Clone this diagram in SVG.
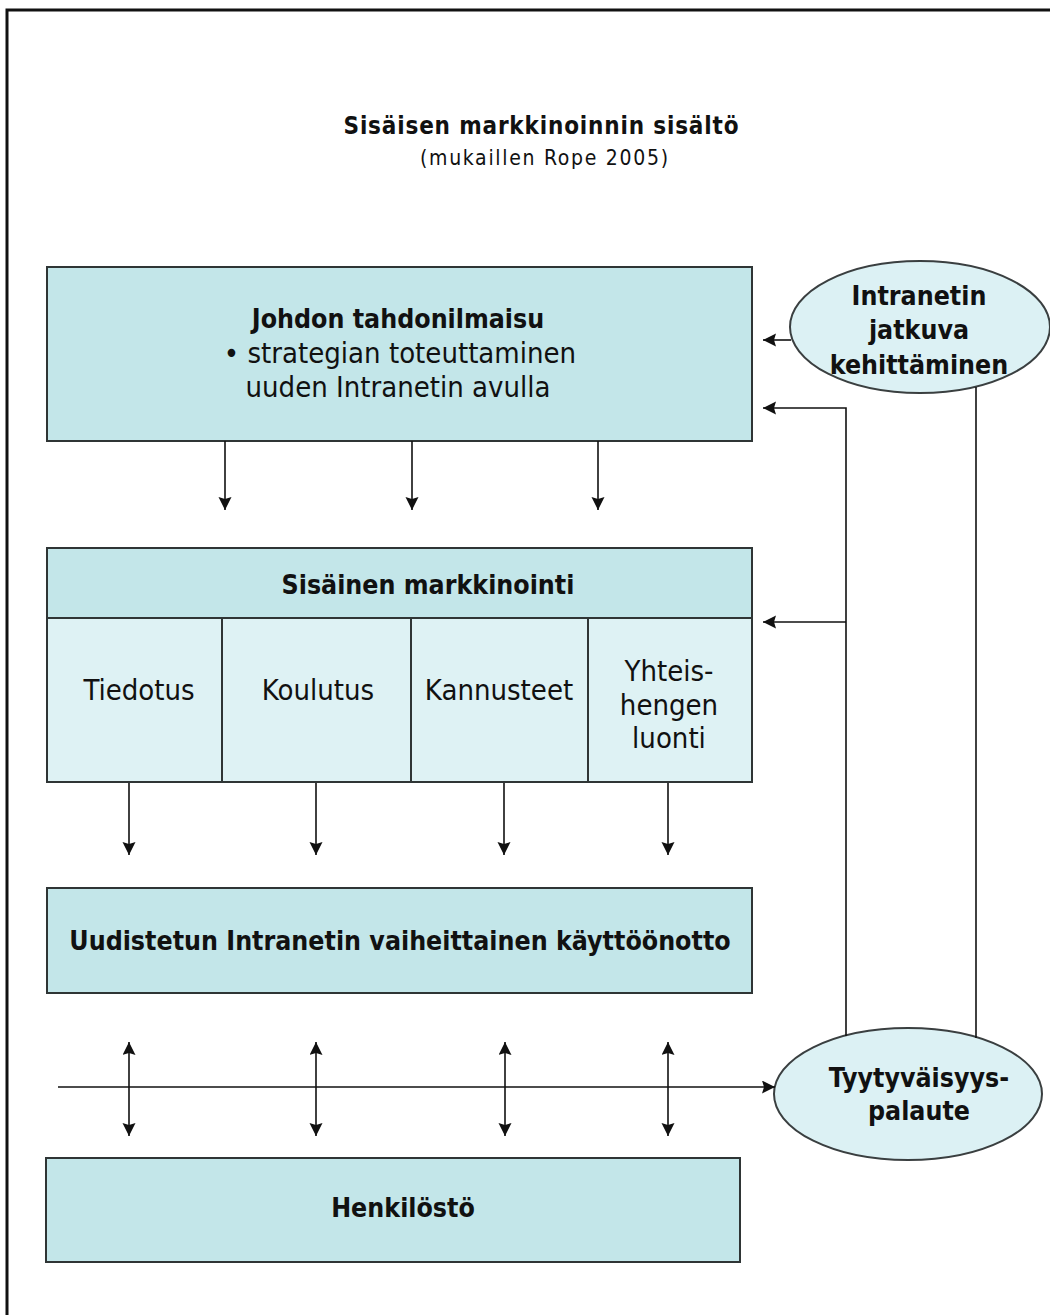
<svg xmlns="http://www.w3.org/2000/svg" width="1050" height="1315" viewBox="0 0 1050 1315">
  <style>
    .box { fill: #c3e6e9; stroke: #2f3535; stroke-width: 2; }
    .cell { fill: #def2f4; stroke: #2f3535; stroke-width: 2; }
    .oval { fill: #dcf1f4; stroke: #3a3f40; stroke-width: 2; }
    .t { font-family: "DejaVu Sans Condensed", "DejaVu Sans", sans-serif; fill: #111; text-anchor: middle; }
    .b { font-weight: bold; }
    .r { font-size: 29px; }
    .bb { font-size: 26.5px; }
    .wire { fill: none; stroke: #111; stroke-width: 1.6; }
  </style>
  <defs>
    <marker id="arrow" markerUnits="userSpaceOnUse" markerWidth="16" markerHeight="14" refX="13" refY="6.5" orient="auto-start-reverse">
      <path d="M0,0 L13,6.5 L0,13 L2,6.5 Z" fill="#111"/>
    </marker>
  </defs>

  <rect width="1050" height="1315" fill="#ffffff"/>
  <!-- outer frame -->
  <path d="M7,1315 V10 H1050" fill="none" stroke="#111" stroke-width="3"/>

  <!-- title -->
  <g id="title">
    <text class="t b" x="541" y="134" font-size="24" textLength="395" lengthAdjust="spacing">Sisäisen markkinoinnin sisältö</text>
    <text class="t" x="544" y="165" font-size="21" textLength="248" lengthAdjust="spacing">(mukaillen Rope 2005)</text>
  </g>

  <g id="johdon-tahdonilmaisu">
    <rect class="box" x="47" y="267" width="705" height="174"/>
    <text class="t b bb" x="398" y="328">Johdon tahdonilmaisu</text>
    <text class="t r" x="400" y="363">• strategian toteuttaminen</text>
    <text class="t r" x="398" y="397">uuden Intranetin avulla</text>
  </g>

  <g id="intranetin-kehittaminen">
    <ellipse class="oval" cx="920" cy="327" rx="130" ry="66"/>
    <text class="t b bb" x="919" y="305">Intranetin</text>
    <text class="t b bb" x="919" y="339">jatkuva</text>
    <text class="t b bb" x="919" y="374">kehittäminen</text>
  </g>

  <g id="sisainen-markkinointi">
    <rect class="box" x="47" y="548" width="705" height="70"/>
    <text class="t b bb" x="428" y="594">Sisäinen markkinointi</text>
    <rect class="cell" x="47" y="618" width="175" height="164"/>
    <rect class="cell" x="222" y="618" width="189" height="164"/>
    <rect class="cell" x="411" y="618" width="177" height="164"/>
    <rect class="cell" x="588" y="618" width="164" height="164"/>
    <text class="t r" x="139" y="700">Tiedotus</text>
    <text class="t r" x="318" y="700">Koulutus</text>
    <text class="t r" x="499" y="700">Kannusteet</text>
    <text class="t r" x="669" y="681">Yhteis-</text>
    <text class="t r" x="669" y="715">hengen</text>
    <text class="t r" x="669" y="748">luonti</text>
  </g>

  <g id="kayttoonotto">
    <rect class="box" x="47" y="888" width="705" height="105"/>
    <text class="t b bb" x="400" y="950">Uudistetun Intranetin vaiheittainen käyttöönotto</text>
  </g>

  <g id="tyytyvaisyyspalaute">
    <ellipse class="oval" cx="908" cy="1094" rx="134" ry="66"/>
    <text class="t b bb" x="919" y="1087">Tyytyväisyys-</text>
    <text class="t b bb" x="919" y="1120">palaute</text>
  </g>

  <g id="henkilosto">
    <rect class="box" x="46" y="1158" width="694" height="104"/>
    <text class="t b bb" x="403" y="1217">Henkilöstö</text>
  </g>

  <g id="connectors">
    <!-- management will down to internal marketing -->
    <path class="wire" d="M225,441 V510" marker-end="url(#arrow)"/>
    <path class="wire" d="M412,441 V510" marker-end="url(#arrow)"/>
    <path class="wire" d="M598,441 V510" marker-end="url(#arrow)"/>
    <!-- internal marketing down to rollout -->
    <path class="wire" d="M129,783 V855" marker-end="url(#arrow)"/>
    <path class="wire" d="M316,783 V855" marker-end="url(#arrow)"/>
    <path class="wire" d="M504,783 V855" marker-end="url(#arrow)"/>
    <path class="wire" d="M668,783 V855" marker-end="url(#arrow)"/>
    <!-- two-way arrows between rollout and staff -->
    <path class="wire" d="M129,1042 V1136" marker-start="url(#arrow)" marker-end="url(#arrow)"/>
    <path class="wire" d="M316,1042 V1136" marker-start="url(#arrow)" marker-end="url(#arrow)"/>
    <path class="wire" d="M505,1042 V1136" marker-start="url(#arrow)" marker-end="url(#arrow)"/>
    <path class="wire" d="M668,1042 V1136" marker-start="url(#arrow)" marker-end="url(#arrow)"/>
    <!-- feedback flow -->
    <path class="wire" d="M58,1087 H775" marker-end="url(#arrow)"/>
    <!-- feedback loops back up -->
    <path class="wire" d="M846,1036 V408 H763" marker-end="url(#arrow)"/>
    <path class="wire" d="M846,622 H763" marker-end="url(#arrow)"/>
    <path class="wire" d="M976,387 V1038"/>
    <!-- continuous development back to management -->
    <path class="wire" d="M791,340 H763" marker-end="url(#arrow)"/>
  </g>
</svg>
